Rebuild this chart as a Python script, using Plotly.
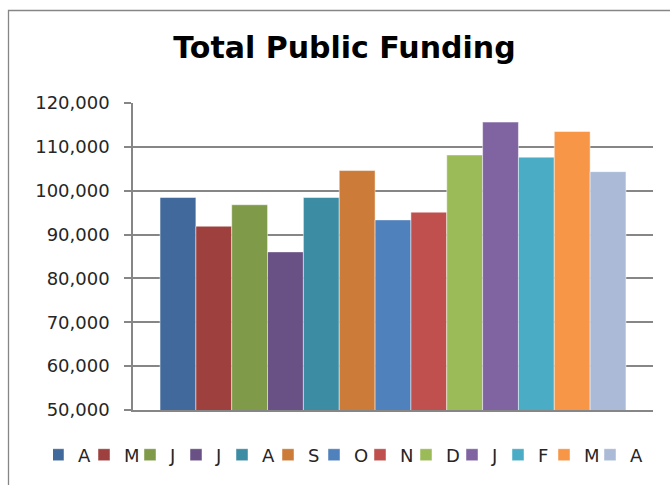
import plotly.graph_objects as go

title = "Total Public Funding"
months = ["A", "M", "J", "J", "A", "S", "O", "N", "D", "J", "F", "M", "A"]
values = [98450, 91900, 96800, 86050, 98450, 104600, 93350, 95100,
          108150, 115650, 107650, 113500, 104350]
colors = ["#41699C", "#9E413E", "#7F9A48", "#695185", "#3C8DA3", "#CC7B38",
          "#4F81BD", "#C0504D", "#9BBB59", "#8064A2", "#4BACC6", "#F79646",
          "#AABAD7"]
y_ticks = [50000, 60000, 70000, 80000, 90000, 100000, 110000, 120000]

fig = go.Figure()
for i, (m, v, c) in enumerate(zip(months, values, colors)):
    fig.add_trace(go.Bar(
        x=["Total"], y=[v], name=m,
        marker=dict(color=c, line=dict(color="rgba(255,255,255,0.6)", width=0.8)),
        legendrank=i + 1,
    ))

W, H = 670, 485
L, R, T, B = 133, 17, 103, 75
PW, PH = W - L - R, H - T - B

fig.update_layout(
    width=W, height=H,
    margin=dict(l=L, r=R, t=T, b=B),
    paper_bgcolor="white", plot_bgcolor="white",
    barmode="group", bargap=0.104, bargroupgap=0,
    title=dict(text=title, x=344.5 / W, xanchor="center", y=1 - 47.5 / H, yanchor="middle",
               font=dict(family="DejaVu Sans", size=30, color="black", weight="bold")),
    xaxis=dict(showticklabels=False, showgrid=False, ticks="", showline=True,
               linecolor="#868686", linewidth=1.5, zeroline=False, fixedrange=True),
    yaxis=dict(range=[50000, 120000], tickvals=y_ticks, tickformat=",d",
               showgrid=True, gridcolor="#868686", gridwidth=1.5,
               showline=True, linecolor="#868686", linewidth=1.5,
               ticks="outside", ticklen=7, tickcolor="#868686", tickwidth=1.5,
               zeroline=False, ticklabelstandoff=11,
               tickfont=dict(family="DejaVu Sans", size=18, color="#262626")),
    showlegend=True,
    legend=dict(orientation="h", x=(53 - L) / PW, xanchor="left",
                y=-(455 - (H - B)) / PH, yanchor="middle",
                font=dict(family="DejaVu Sans", size=18, color="#262626"),
                entrywidth=16, itemwidth=30, indentation=-15, traceorder="normal",
                bgcolor="rgba(0,0,0,0)"),
    shapes=[dict(type="rect", xref="paper", yref="paper",
                 x0=(8.5 - L) / PW, x1=(W + 10 - L) / PW,
                 y0=-(H + 10 - (H - B)) / PH, y1=((H - B) - 10.5) / PH,
                 line=dict(color="#868686", width=1.3), fillcolor="rgba(0,0,0,0)", layer="below")],
)

fig.write_html("out.html", config={"displayModeBar": False},
               post_script="document.body.style.margin='0';")
